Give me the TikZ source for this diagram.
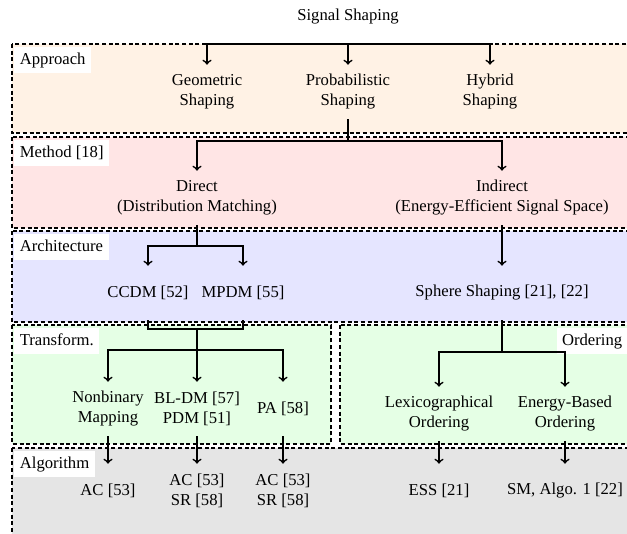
\documentclass[tikz,border=0pt]{standalone}
\usepackage{fontspec}
\setmainfont{Liberation Serif}
\begin{document}
\begin{tikzpicture}[x=0.6pt,y=-0.6pt,
  layerbox/.style={draw=black, line width=1pt, dash pattern=on 2.4pt off 1.6pt},
  lab/.style={fill=white, text height=7pt, text depth=2pt, inner sep=3.3pt, font=\fontsize{10}{12}\selectfont},
  item/.style={align=center, minimum height=32.4pt, inner sep=2pt, font=\fontsize{10}{12}\selectfont},
  conn/.style={line width=1pt},
  arr/.style={line width=1pt,->}]
\useasboundingbox (0,0) rectangle (627,533);
% layers
\path[layerbox, fill=orange!10] (12,44) rectangle (630,133);
\path[layerbox, fill=red!10] (12,137) rectangle (630,228);
\path[layerbox, fill=blue!10] (12,231) rectangle (630,322);
\path[layerbox, fill=green!10] (12,325) rectangle (331,444);
\path[layerbox, fill=green!10] (340,325) rectangle (630,444);
\path[layerbox, fill=gray!20] (12,448) rectangle (630,545);
% layer labels
\node[lab, anchor=north west] (lapp) at (14,47) {Approach};
\node[lab, anchor=north west] (lmet) at (14,140) {Method [18]};
\node[lab, anchor=north west] (larc) at (14,234) {Architecture};
\node[lab, anchor=north west] (ltra) at (14,328) {Transform.};
\node[lab, anchor=north east] (lord) at (628,328) {Ordering};
\node[lab, anchor=north west] (lalg) at (14,451) {Algorithm};
% title
\node[font=\fontsize{10}{12}\selectfont] (title) at (348,17) {Signal Shaping};
% approach
\node[item] (geo) at (207,92) {Geometric\\Shaping};
\node[item] (prob) at (348,92) {Probabilistic\\Shaping};
\node[item] (hyb) at (490,92) {Hybrid\\Shaping};
% method
\node[item] (dir) at (197,198) {Direct\\(Distribution Matching)};
\node[item] (ind) at (502,198) {Indirect\\(Energy-Efficient Signal Space)};
% architecture
\node[item] (ccdm) at (148,293) {CCDM [52]};
\node[item] (mpdm) at (243,293) {MPDM [55]};
\node[item] (sph) at (502,293) {Sphere Shaping [21], [22]};
% transform
\node[item] (nbm) at (108,409) {Nonbinary\\Mapping};
\node[item] (bldm) at (197,409) {BL-DM [57]\\PDM [51]};
\node[item] (pa) at (283,409) {PA [58]};
% ordering
\node[item] (lex) at (439,414) {Lexicographical\\Ordering};
\node[item] (ebo) at (565,414) {Energy-Based\\Ordering};
% algorithm
\node[item] (ac1) at (108,491) {AC [53]};
\node[item] (ac2) at (197,491) {AC [53]\\SR [58]};
\node[item] (ac3) at (283,491) {AC [53]\\SR [58]};
\node[item] (ess) at (439,491) {ESS [21]};
\node[item] (sm) at (565,491) {SM, Algo. 1 [22]};
% junctions
\coordinate (j0) at (348,44);
\coordinate (j1) at (348,141);
\coordinate (j2) at (197,246);
\coordinate (j3) at (197,329);
\coordinate (j4) at (197,350);
\coordinate (j5) at (502,352);
% connectors
\draw[arr] (j0) -| (geo.north);
\draw[arr] (j0) -- (prob.north);
\draw[arr] (j0) -| (hyb.north);
\draw[conn] (prob.south) -- (j1);
\draw[arr] (j1) -| (dir.north);
\draw[arr] (j1) -| (ind.north);
\draw[conn] (dir.south) -- (j2);
\draw[arr] (j2) -| (ccdm.north);
\draw[arr] (j2) -| (mpdm.north);
\draw[arr] (ind.south) -- (sph.north);
\draw[conn] (ccdm.south) |- (j3) -| (mpdm.south);
\draw[conn] (j3) -- (j4);
\draw[arr] (j4) -| (nbm.north);
\draw[arr] (j4) -- (bldm.north);
\draw[arr] (j4) -| (pa.north);
\draw[conn] (sph.south) -- (j5);
\draw[arr] (j5) -| (lex.north);
\draw[arr] (j5) -| (ebo.north);
\draw[arr] (nbm.south) -- (ac1.north);
\draw[arr] (bldm.south) -- (ac2.north);
\draw[arr] (pa.south) -- (ac3.north);
\draw[arr] (lex.south) -- (ess.north);
\draw[arr] (ebo.south) -- (sm.north);
\end{tikzpicture}
\end{document}
